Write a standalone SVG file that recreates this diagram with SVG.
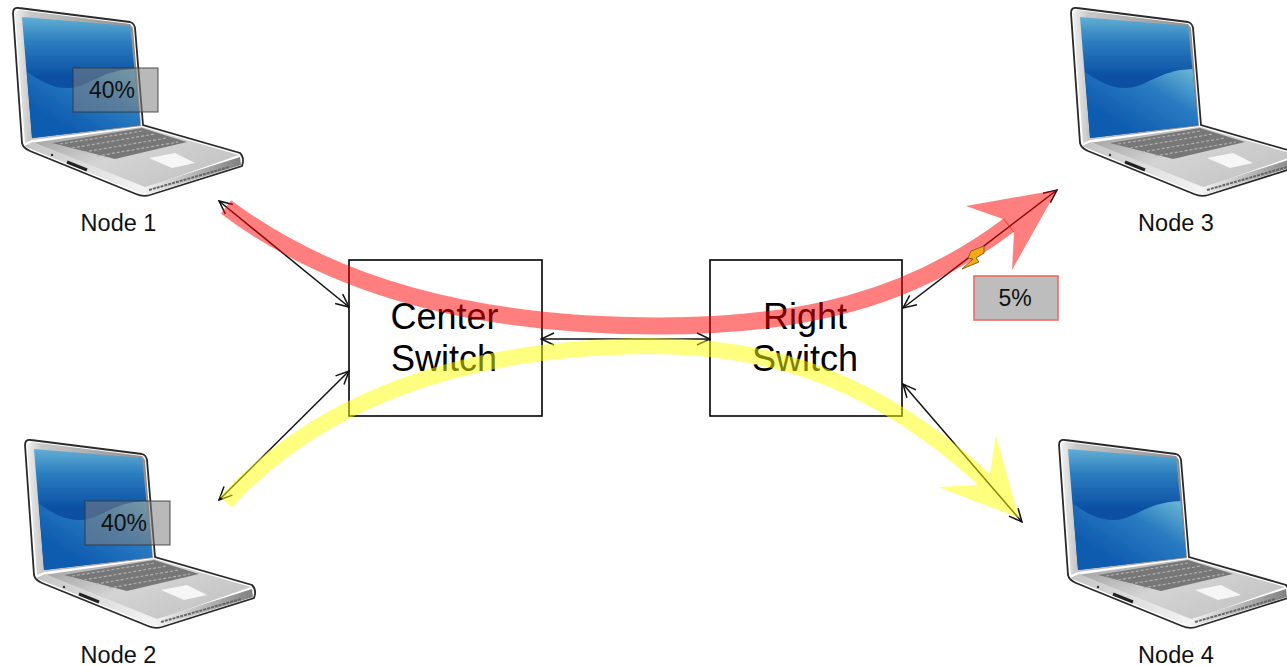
<svg xmlns="http://www.w3.org/2000/svg" width="1287" height="666" viewBox="0 0 1287 666">
<style>
text{font-family:"Liberation Sans",Arial,sans-serif;fill:#111;text-anchor:middle}
.lbl{font-size:23.500px}
.sw{font-size:36px;fill:#000}
.pct{font-size:23px}
.box{fill:none;stroke:#000;stroke-width:1.6}
.link{fill:none;stroke:#111;stroke-width:1.5;marker-start:url(#v);marker-end:url(#v)}
.tag{fill:#808080;fill-opacity:.55;stroke:#333;stroke-width:1.2;stroke-opacity:.7}
</style>
<defs>
<marker id="v" viewBox="-14 -7 15 14" refX="0" refY="0" markerWidth="15" markerHeight="14" markerUnits="userSpaceOnUse" orient="auto-start-reverse"><path d="M-13,-6 L0,0 L-13,6" fill="none" stroke="#111" stroke-width="1.5"/></marker>
<linearGradient id="scr" x1="0" y1="0" x2="0" y2="1"><stop offset="0" stop-color="#62aed4"/><stop offset=".2" stop-color="#2c7fc0"/><stop offset=".5" stop-color="#0a4fa3"/><stop offset="1" stop-color="#0a4fa3"/></linearGradient>
<linearGradient id="wav" x1="1" y1="0" x2=".25" y2=".75"><stop offset="0" stop-color="#70bcd6"/><stop offset=".45" stop-color="#2a7cc2"/><stop offset="1" stop-color="#0f5cb0"/></linearGradient>
<linearGradient id="deck" x1="0" y1="0" x2="1" y2=".6"><stop offset="0" stop-color="#9a9a9a"/><stop offset=".5" stop-color="#d4d4d4"/><stop offset="1" stop-color="#c4c4c4"/></linearGradient>
<linearGradient id="front" x1="0" y1="0" x2="1" y2="0"><stop offset="0" stop-color="#c4c4c4"/><stop offset=".55" stop-color="#f4f4f4"/><stop offset="1" stop-color="#808080"/></linearGradient>
<linearGradient id="bez" x1="0" y1="0" x2="1" y2="0"><stop offset="0" stop-color="#f0f0f0"/><stop offset=".12" stop-color="#c8c8c8"/><stop offset="1" stop-color="#8a8a8a"/></linearGradient>
<filter id="soft" x="-5%" y="-5%" width="110%" height="110%"><feGaussianBlur stdDeviation=".6"/></filter>
<g id="laptop" filter="url(#soft)">
<path d="M13,13 Q13,7 19,8 L130,22 Q134,23 135,28 L143,125 L240,153 Q245,158 242,166 L150,195 Q143,197 136,194 L30,151 Q23,148 22,143 Z" fill="#fff" stroke="#2a2a2a" stroke-width="1.8"/>
<path d="M15,13 L19,10 L130,24 L133,28 L141,126 L32,140 L25,143 Z" fill="url(#bez)"/>
<path d="M22,17 L130,26 L140,125 L32,138 Z" fill="url(#scr)"/>
<path d="M27,72 C40,80 50,88 68,88 C88,88 100,70 134.500,69 L140,125 L32,138 Z" fill="url(#wav)"/>
<path d="M31,143 L142,127 L239,155 L145,188 Z" fill="url(#deck)"/>
<path d="M24,146 L33,142 L145,187 L240,157 L241,165 L149,194 Q143,195 137,192 L31,149 Z" fill="url(#front)"/>
<path d="M52,143 L142,128 L187,142 L115,159 Z" fill="#777"/>
<path d="M60,144 L142,131 M72,148 L155,134 M84,152 L167,138 M97,156 L178,142" stroke="#b0b0b0" stroke-width="1.2" stroke-dasharray="3 2" fill="none"/>
<path d="M149,158 L175,153 L195,163 L172,168 Z" fill="#f6f6f6"/>
<path d="M67,162 L87,170" stroke="#222" stroke-width="3"/>
<circle cx="52" cy="155" r="1.200" fill="#333"/>
<path d="M149,190 L229,167" stroke="#666" stroke-width="2" stroke-dasharray="3 1"/>
</g>
</defs>

<g id="node1"><use href="#laptop"/><text class="lbl" x="118.500" y="231">Node 1</text></g>
<g id="node2"><use href="#laptop" x="12" y="432"/><text class="lbl" x="118.500" y="663">Node 2</text></g>
<g id="node3"><use href="#laptop" x="1058" y="0"/><text class="lbl" x="1176" y="231">Node 3</text></g>
<g id="node4"><use href="#laptop" x="1046" y="432"/><text class="lbl" x="1176" y="663">Node 4</text></g>

<g id="center-switch"><rect class="box" x="349" y="260" width="193" height="156"/><text class="sw" x="444.500" y="329">Center</text><text class="sw" x="444" y="371">Switch</text></g>
<g id="right-switch"><rect class="box" x="710" y="260" width="192" height="156"/><text class="sw" x="805" y="329">Right</text><text class="sw" x="805" y="371">Switch</text></g>

<g id="connectors">
<path class="link" d="M219,201 L349,307"/>
<path class="link" d="M349,371 L219,500"/>
<path class="link" d="M541,339 L710,339"/>
<path class="link" d="M903,308 L1057,190"/>
<path class="link" d="M903,384 L1022,522"/>
</g>

<g id="flows">
<path id="flow-red" d="M226,207 C330,285 470,326 660,326 C800,326 910,300 1009,225" fill="none" stroke="#f00" stroke-width="17" opacity=".5"/>
<path id="flow-red-head" d="M966,206 L1057,190 L1012,270 L1014,233 L1003,219 Z" fill="#f00" opacity=".5"/>
<path id="flow-yellow" d="M226,502 C305,415 440,347 650,346 C780,346 880,385 984,479" fill="none" stroke="#ff0" stroke-width="16" opacity=".5"/>
<path id="flow-yellow-head" d="M996,435 L1019,518 L938,487 L977,485 L990,473 Z" fill="#ff0" opacity=".5"/>
</g>

<g id="fault"><path d="M984,246 L971,251 L968,258 L973,259 L962,269 L979,262 L976,258 L984,253 Z" fill="#f5a815" stroke="#7a5a10" stroke-width=".9"/></g>

<g id="tag1"><rect class="tag" x="73" y="68" width="85" height="44"/><text class="pct" x="112" y="98">40%</text></g>
<g id="tag2"><rect class="tag" x="85" y="501" width="85" height="44"/><text class="pct" x="124" y="531">40%</text></g>
<g id="tag3"><rect x="974" y="276" width="84" height="44" fill="#bdbdbd" stroke="#f06a62" stroke-width="1.6"/><text class="pct" x="1015" y="306">5%</text></g>
</svg>
